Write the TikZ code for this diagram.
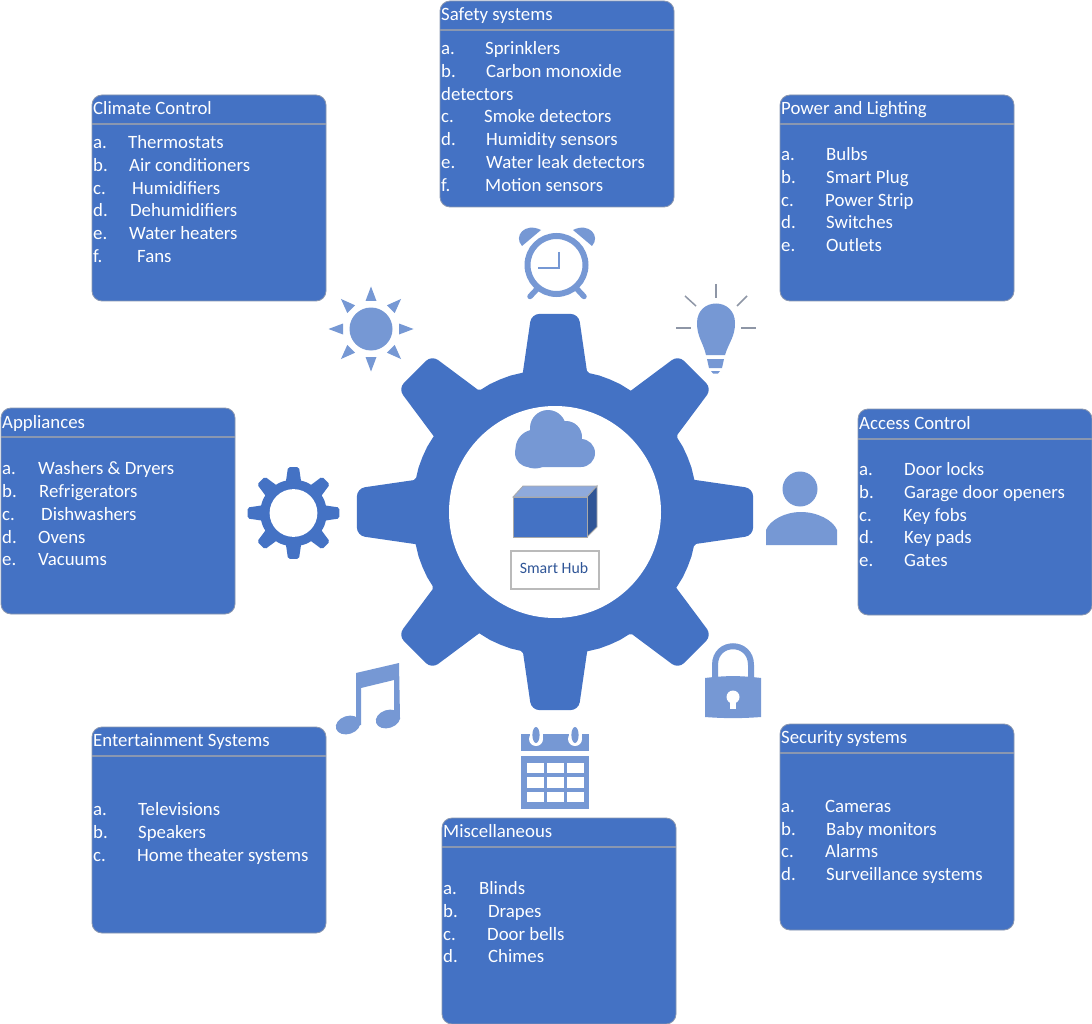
\documentclass[tikz,border=0pt]{standalone}
\usepackage{fontspec}
\setmainfont{Carlito}
\definecolor{mainblue}{HTML}{4472C4}
\definecolor{lightblue}{HTML}{7698D4}
\definecolor{edgegray}{HTML}{8A97B0}
\definecolor{raygray}{HTML}{8E96A6}
\definecolor{hubtext}{HTML}{2F5597}
\definecolor{cubetop}{HTML}{8FAADC}
\definecolor{outlinegray}{HTML}{A9A9A9}
\newcommand{\mygear}[4]{% cx, cy, scale, inner radius (in px)
  \begin{scope}[shift={(#1,#2)},x=1pt,y=1pt,scale=#3]
    \fill[mainblue]
      (103:143)
      \foreach \a in {0,-45,...,-315}{
        [rounded corners=#3*8pt] -- (\a+96.8:199.5) -- (\a+83.2:199.5) [rounded corners=#3*2pt] -- (\a+77:143)
        [sharp corners] -- (\a+72:143.5) -- (\a+67.5:143.5) -- (\a+63:143.5) -- (\a+58:143)
      } -- cycle;
    \fill[white] (0,0) circle[radius=#4];
  \end{scope}}
\newcommand{\boxcard}[6]{% name, x0, y0, y line, label, label baseline
  \node[cardbox,minimum width=234pt,minimum height=206pt] (#1) at (#2+117,#3+103) {};
  \draw[dividerline] (#2,#4) -- (#2+234,#4);
  \node[cardtext] (#1head) at (#2+1,#6) {#5};}
\newcommand{\listrow}[6]{% name, x0, x1, center y, letter, text
  \pgfmathsetmacro{\rowgap}{#3-(#2)}
  \node[cardtext] (#1) at (#2,#4+6) {\makebox[\rowgap pt][l]{#5}#6};}
\tikzset{
  cardbox/.style={draw=edgegray,line width=0.8pt,fill=mainblue,rounded corners=10pt,inner sep=0pt},
  dividerline/.style={draw=edgegray,line width=1.2pt},
  cardtext/.style={text=white,font=\fontsize{18.8}{20}\selectfont,anchor=base west,inner sep=0pt},
  rayline/.style={draw=raygray,line width=1.5pt},
}
\begin{document}
\begin{tikzpicture}[x=1pt,y=-1pt]
\useasboundingbox (0,0) rectangle (1092,1024);
\fill[white] (0,0) rectangle (1092,1024);

% gears
\mygear{555}{512}{1}{106}
\mygear{293.5}{513}{0.232}{103}

% cards
\boxcard{safety}{440}{1}{30}{Safety systems}{21}
\listrow{sa}{441}{485}{49}{a.}{Sprinklers}
\listrow{sb}{441}{486}{72}{b.}{Carbon monoxide}
\node[cardtext] (sb2) at (441,101) {detectors};
\listrow{sc}{441}{484}{117}{c.}{Smoke detectors}
\listrow{sd}{441}{486}{140}{d.}{Humidity sensors}
\listrow{se}{441}{486}{163}{e.}{Water leak detectors}
\listrow{sf}{441}{485}{186}{f.}{Motion sensors}

\boxcard{climate}{92}{95}{124}{Climate Control}{115}
\listrow{ca}{93}{128}{143}{a.}{Thermostats}
\listrow{cb}{93}{129}{166}{b.}{Air conditioners}
\listrow{cc}{93}{132}{189}{c.}{Humidifiers}
\listrow{cd}{93}{130}{211}{d.}{Dehumidifiers}
\listrow{ce}{93}{129}{234}{e.}{Water heaters}
\listrow{cf}{93}{137}{257}{f.}{Fans}

\boxcard{power}{780}{95}{124}{Power and Lighting}{115}
\listrow{pa}{781}{826}{155}{a.}{Bulbs}
\listrow{pb}{781}{826}{178}{b.}{Smart Plug}
\listrow{pc}{781}{825}{201}{c.}{Power Strip}
\listrow{pd}{781}{826}{223}{d.}{Switches}
\listrow{pe}{781}{826}{246}{e.}{Outlets}

\boxcard{appliances}{1}{408}{437}{Appliances}{428}
\listrow{aa}{2}{38}{468}{a.}{Washers \& Dryers}
\listrow{ab}{2}{39}{491}{b.}{Refrigerators}
\listrow{ac}{2}{41}{514}{c.}{Dishwashers}
\listrow{ad}{2}{38}{537}{d.}{Ovens}
\listrow{ae}{2}{38}{559}{e.}{Vacuums}

\boxcard{access}{858}{409}{439}{Access Control}{429}
\listrow{xa}{859}{904}{469}{a.}{Door locks}
\listrow{xb}{859}{904}{492}{b.}{Garage door openers}
\listrow{xc}{859}{903}{515}{c.}{Key fobs}
\listrow{xd}{859}{904}{537}{d.}{Key pads}
\listrow{xe}{859}{904}{560}{e.}{Gates}

\boxcard{entertainment}{92}{727}{756}{Entertainment Systems}{746}
\listrow{ea}{93}{138}{809}{a.}{Televisions}
\listrow{eb}{93}{138}{832}{b.}{Speakers}
\listrow{ec}{93}{137}{855}{c.}{Home theater systems}

\boxcard{security}{780}{724}{753}{Security systems}{743}
\listrow{ya}{781}{825}{806}{a.}{Cameras}
\listrow{yb}{781}{826}{829}{b.}{Baby monitors}
\listrow{yc}{781}{825}{851}{c.}{Alarms}
\listrow{yd}{781}{826}{874}{d.}{Surveillance systems}

\boxcard{misc}{442}{818}{847}{Miscellaneous}{837}
\listrow{ma}{443}{479}{888}{a.}{Blinds}
\listrow{mb}{443}{488}{911}{b.}{Drapes}
\listrow{mc}{443}{487}{934}{c.}{Door bells}
\listrow{md}{443}{488}{956}{d.}{Chimes}

% alarm clock
\draw[lightblue,line width=6pt] (556.5,265) circle[radius=29];
\draw[lightblue,line width=2.8pt] (559,252) -- (559,268) -- (538,268);
\fill[lightblue] (522,246) .. controls (513,236) and (525,222) .. (541,230) -- cycle;
\fill[lightblue] (592,246) .. controls (601,236) and (589,222) .. (573,230) -- cycle;
\draw[lightblue,line width=5.5pt,line cap=round] (530,296.5) -- (537,289);
\draw[lightblue,line width=5.5pt,line cap=round] (584,296.5) -- (577,289);

% sun
\fill[lightblue] (371,329) circle[radius=21.5];
\foreach \r in {0,45,...,315}{
  \fill[lightblue,shift={(371,329)},rotate=\r] (-5.5,-28) -- (0,-42.5) -- (5.5,-28) -- cycle;
}

% bulb
\fill[lightblue] (706,355) .. controls (703,342) and (697,337) .. (697,323)
  .. controls (697,297) and (735,297) .. (735,323)
  .. controls (735,337) and (729,342) .. (725,355) -- cycle;
\fill[lightblue] (707,359) -- (724,359) -- (722,368) -- (709,368) -- cycle;
\fill[lightblue] (711,371) -- (720,371) -- (718,373.5) -- (713,373.5) -- cycle;
\draw[rayline] (716,284) -- (716,298);
\draw[rayline] (676,328) -- (691,328);
\draw[rayline] (741,328) -- (756,328);
\draw[rayline] (685,296) -- (696,306);
\draw[rayline] (747,296) -- (737,306);

% person
\fill[lightblue] (800,489) circle[radius=17.5];
\fill[lightblue] (766,545) -- (766,530) .. controls (770,520) and (785,512) .. (801,512)
  .. controls (817,512) and (833,520) .. (837,530) -- (837,545) -- cycle;

% lock
\draw[lightblue,line width=6pt] (715,680) -- (715,665) .. controls (715,640) and (751,640) .. (751,665) -- (751,680);
\fill[lightblue] (705,678) .. controls (725,675.5) and (741,675.5) .. (761,678) -- (761,717)
  .. controls (741,718.5) and (725,718.5) .. (705,717) -- cycle;
\fill[white] (733,697) circle[radius=6.5];
\fill[white] (730,699) rectangle (736,709);

% notes
\fill[lightblue] (356,673) -- (399,663) -- (400,718) -- (394,718) -- (394,680) -- (361,688) -- (361,725) -- (356,725) -- cycle;
\fill[lightblue,rotate around={18:(348,725)}] (348,725) ellipse[x radius=12.5,y radius=9];
\fill[lightblue,rotate around={18:(388,719)}] (388,719) ellipse[x radius=12.5,y radius=9];

% calendar
\fill[lightblue] (521,734) rectangle (589,751);
\foreach \cx in {536,575}{
  \fill[white] (\cx-6.5,734) rectangle (\cx+6.5,738);
  \fill[white] (\cx,739) circle[radius=7];
  \fill[lightblue] (\cx,735) ellipse[x radius=3.6,y radius=8];
}
\fill[lightblue] (521,756) rectangle (589,809);
\foreach \cx in {527,547,567}{
  \foreach \cy/\h in {763/10,777/11,792/10}{
    \fill[white] (\cx,\cy) rectangle (\cx+16.5,\cy+\h);
  }
}

% cloud
\fill[lightblue] (535,449) circle[radius=19.5];
\fill[lightblue] (548,428) circle[radius=18];
\fill[lightblue] (566,437) circle[radius=16];
\fill[lightblue,rounded corners=14pt] (515,439) rectangle (595,467);

% cuboid
\draw[outlinegray,line width=0.8pt,fill=cubetop] (513,497) -- (523,486) -- (597,486) -- (587,497) -- cycle;
\draw[outlinegray,line width=0.8pt,fill=hubtext] (587,497) -- (597,486) -- (597,527) -- (587,537) -- cycle;
\draw[outlinegray,line width=0.8pt,fill=mainblue] (513,497) rectangle (587,537);

% smart hub label
\node[draw=outlinegray!80,line width=1.3pt,fill=white,minimum width=88pt,minimum height=38pt,inner sep=0pt] (hub) at (555,570) {};
\node[text=hubtext,inner sep=0pt,font=\fontsize{15.8}{18}\selectfont] (hublabel) at (554,568) {Smart Hub};
\end{tikzpicture}
\end{document}
